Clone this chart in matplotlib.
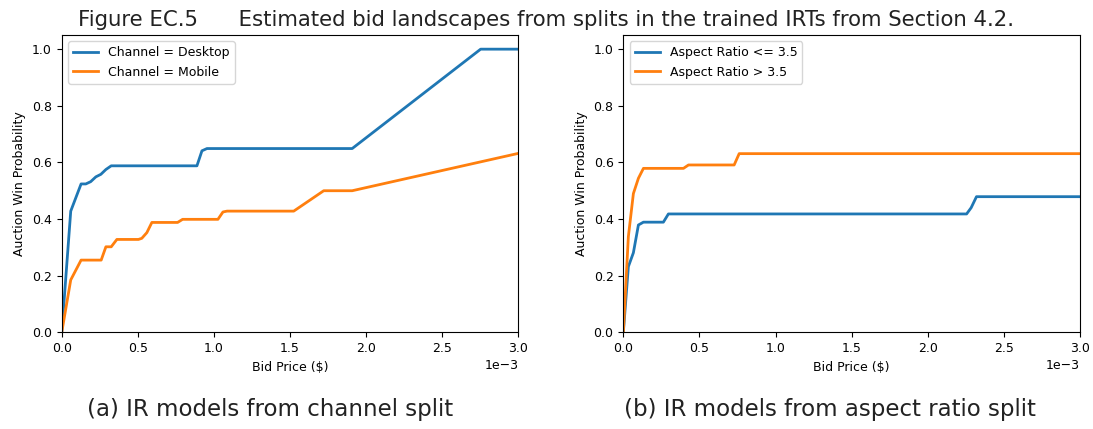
import matplotlib
matplotlib.use("Agg")
import matplotlib.pyplot as plt

# bid price in units of 1e-3 $, win probability
desktop_x = [0.0, 0.059, 0.127, 0.158, 0.19, 0.224, 0.257, 0.29, 0.325, 0.888, 0.921, 0.954, 1.908, 2.752, 3.0]
desktop_y = [0.0, 0.428, 0.524, 0.524, 0.532, 0.549, 0.558, 0.575, 0.588, 0.588, 0.641, 0.649, 0.649, 1.0, 1.0]

mobile_x = [0.0, 0.059, 0.127, 0.259, 0.29, 0.325, 0.362, 0.504, 0.526, 0.559, 0.592, 0.761, 0.794,
            1.026, 1.059, 1.086, 1.524, 1.721, 1.908, 3.0]
mobile_y = [0.0, 0.185, 0.255, 0.255, 0.302, 0.302, 0.328, 0.328, 0.332, 0.352, 0.388, 0.388, 0.399,
            0.399, 0.425, 0.428, 0.428, 0.5, 0.5, 0.632]

ar_low_x = [0.0, 0.033, 0.066, 0.099, 0.132, 0.263, 0.296, 2.255, 2.285, 2.32, 3.0]
ar_low_y = [0.0, 0.232, 0.281, 0.379, 0.389, 0.389, 0.418, 0.418, 0.44, 0.479, 0.479]

ar_high_x = [0.0, 0.033, 0.066, 0.099, 0.132, 0.395, 0.428, 0.728, 0.761, 3.0]
ar_high_y = [0.0, 0.338, 0.49, 0.544, 0.579, 0.579, 0.591, 0.591, 0.631, 0.631]

panels = [
    ([(desktop_x, desktop_y, "Channel = Desktop"), (mobile_x, mobile_y, "Channel = Mobile")],
     "(a) IR models from channel split"),
    ([(ar_low_x, ar_low_y, "Aspect Ratio <= 3.5"), (ar_high_x, ar_high_y, "Aspect Ratio > 3.5")],
     "(b) IR models from aspect ratio split"),
]

plt.rcParams['font.size'] = 9

fig = plt.figure(figsize=(10.93, 4.29), dpi=100)
lefts = [0.0565, 0.5703]
cap_x = [0.247, 0.759]
for left, cx, (series, caption) in zip(lefts, cap_x, panels):
    ax = fig.add_axes([left, 0.2254, 0.4178, 0.693])
    for xs, ys, lab in series:
        ax.plot([v * 1e-3 for v in xs], ys, linewidth=2, label=lab)
    ax.set_xlim(0, 0.003)
    ax.set_ylim(0, 1.05)
    ax.ticklabel_format(axis='x', style='sci', scilimits=(0, 0))
    ax.set_xlabel("Bid Price ($)")
    ax.set_ylabel("Auction Win Probability")
    ax.legend(loc='upper left')
    fig.text(cx, 0.045, caption, ha='center', va='center', fontsize=16.5, color='#222222')

fig.text(0.5, 0.953, "Figure EC.5      Estimated bid landscapes from splits in the trained IRTs from Section 4.2.",
         ha='center', va='center', fontsize=15.3, color='#222222')

fig.savefig("out.png", dpi=100)
